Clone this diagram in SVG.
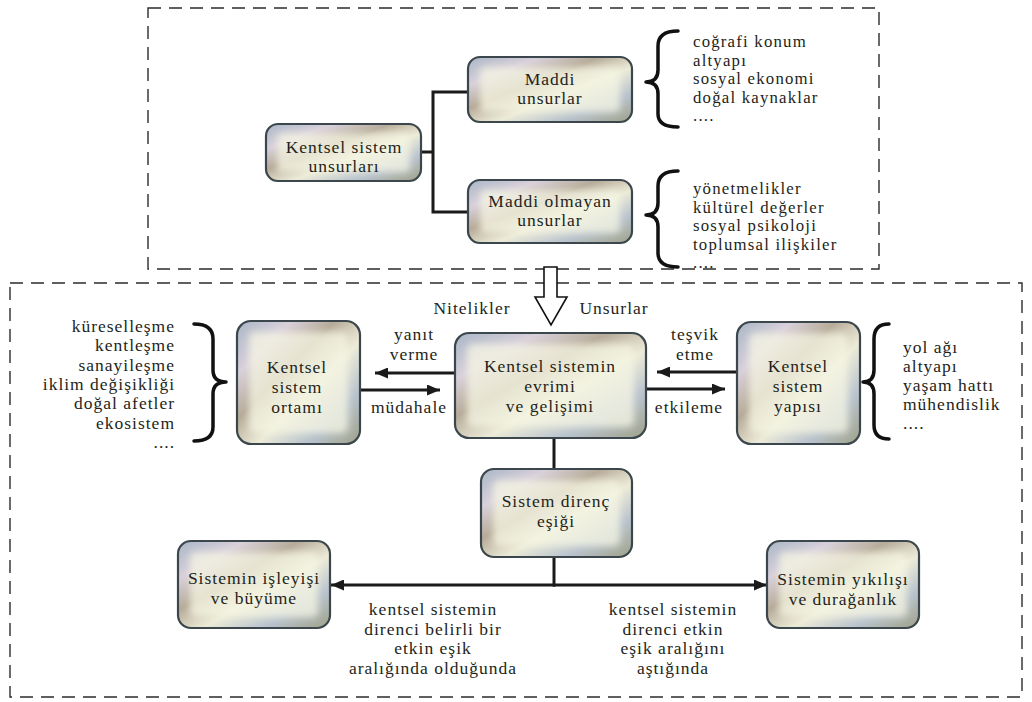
<svg xmlns="http://www.w3.org/2000/svg" width="1032" height="702" viewBox="0 0 1032 702">
<style>
text{font-family:"Liberation Serif","DejaVu Serif",serif;font-size:17.5px;letter-spacing:1px;fill:#231f20}
.s{font-size:16.8px;letter-spacing:1.2px}
.c{text-anchor:middle}
.r{text-anchor:end}
.frame{fill:none;stroke:#2b2b2b;stroke-width:1.4;stroke-dasharray:13 8}
.nb{fill:url(#metal);stroke:#3b474c;stroke-width:2.2}
.ni{fill:#f6f6e4;opacity:0.75;filter:url(#soft)}
.ln{fill:none;stroke:#1a1a1a;stroke-width:3}
.ar{fill:none;stroke:#1a1a1a;stroke-width:3;marker-end:url(#ah)}
.br{fill:none;stroke:#111;stroke-width:3.5;stroke-linecap:round;stroke-linejoin:round}
</style>
<defs>
<linearGradient id="metal" x1="0" y1="0" x2="1" y2="1">
<stop offset="0" stop-color="#a9b6c6"/>
<stop offset="0.22" stop-color="#d8d0da"/>
<stop offset="0.4" stop-color="#b6ab98"/>
<stop offset="0.58" stop-color="#ecebd8"/>
<stop offset="0.78" stop-color="#b9c3cd"/>
<stop offset="1" stop-color="#9fa188"/>
</linearGradient>
<filter id="soft" x="-20%" y="-20%" width="140%" height="140%">
<feGaussianBlur stdDeviation="3.5"/>
</filter>
<marker id="ah" markerUnits="userSpaceOnUse" markerWidth="13" markerHeight="11" refX="13" refY="5.5" orient="auto">
<path d="M0,0 L13,5.5 L0,11 z" fill="#1a1a1a"/>
</marker>
</defs>
<rect width="1032" height="702" fill="#fff"/>
<rect class="frame" x="148" y="8" width="731" height="261"/>
<rect class="frame" x="10" y="283" width="1012" height="414"/>

<g id="connectors">
<path class="ln" d="M421,152 H433 M433,92 V212 M431.5,92 H468 M431.5,212 H468"/>
<polygon points="544,267 557,267 557,297 567,297 551,325 535,297 544,297" fill="#fff" stroke="#111" stroke-width="1.6" stroke-linejoin="miter"/>
<line class="ar" x1="455" y1="373" x2="375" y2="373"/>
<line class="ar" x1="360" y1="390" x2="440" y2="390"/>
<line class="ar" x1="737" y1="372" x2="657" y2="372"/>
<line class="ar" x1="646" y1="389" x2="725" y2="389"/>
<line class="ln" x1="554" y1="438" x2="554" y2="469"/>
<line class="ln" x1="554" y1="557" x2="554" y2="586.5"/>
<line class="ar" x1="555" y1="585" x2="331" y2="585"/>
<line class="ar" x1="553" y1="585" x2="767" y2="585"/>
</g>

<g id="braces">
<path class="br" d="M678,31 Q658,31 658,46 L658,70 Q658,82 646,82 Q658,82 658,94 L658,114 Q658,127 678,127"/>
<path class="br" d="M678,171 Q658,171 658,186 L658,203 Q658,215 646,215 Q658,215 658,227 L658,253 Q658,267 678,267"/>
<path class="br" d="M194,324 Q213,324 213,339 L213,370 Q213,382 226,382 Q213,382 213,394 L213,427 Q213,441 194,441"/>
<path class="br" d="M889,324 Q874,324 874,339 L874,370 Q874,382 863,382 Q874,382 874,394 L874,425 Q874,439 889,439"/>
</g>

<g id="n1">
<rect class="nb" x="266" y="124" width="155" height="57" rx="12"/>
<rect class="ni" x="277" y="133" width="133" height="39" rx="5"/>
<text class="c" x="344" y="153">Kentsel sistem</text>
<text class="c" x="344" y="172">unsurları</text>
</g>
<g id="n2">
<rect class="nb" x="468" y="57" width="164" height="65" rx="12"/>
<rect class="ni" x="480" y="67" width="140" height="45" rx="5"/>
<text class="c" x="550" y="85">Maddi</text>
<text class="c" x="550" y="104">unsurlar</text>
</g>
<g id="n3">
<rect class="nb" x="468" y="180" width="164" height="63" rx="12"/>
<rect class="ni" x="480" y="190" width="140" height="43" rx="5"/>
<text class="c" x="550" y="207">Maddi olmayan</text>
<text class="c" x="550" y="226">unsurlar</text>
</g>

<g id="list1">
<text class="s" x="693" y="47">coğrafi konum</text>
<text class="s" x="693" y="65.5">altyapı</text>
<text class="s" x="693" y="84">sosyal ekonomi</text>
<text class="s" x="693" y="102.5">doğal kaynaklar</text>
<text class="s" x="693" y="121">....</text>
</g>
<g id="list2">
<text class="s" x="693" y="194">yönetmelikler</text>
<text class="s" x="693" y="212.5">kültürel değerler</text>
<text class="s" x="693" y="231">sosyal psikoloji</text>
<text class="s" x="693" y="249.5">toplumsal ilişkiler</text>
<text class="s" x="693" y="268">....</text>
</g>

<text class="c" x="472" y="314">Nitelikler</text>
<text class="c" x="614" y="314">Unsurlar</text>

<g id="list3">
<text class="r" x="175" y="332">küreselleşme</text>
<text class="r" x="175" y="351.3">kentleşme</text>
<text class="r" x="175" y="370.6">sanayileşme</text>
<text class="r" x="175" y="389.9">iklim değişikliği</text>
<text class="r" x="175" y="409.2">doğal afetler</text>
<text class="r" x="175" y="428.5">ekosistem</text>
<text class="r" x="175" y="447.8">....</text>
</g>

<g id="n4">
<rect class="nb" x="237" y="321" width="123" height="123" rx="14"/>
<rect class="ni" x="249" y="332" width="99" height="101" rx="6"/>
<text class="c" x="297" y="373">Kentsel</text>
<text class="c" x="297" y="393">sistem</text>
<text class="c" x="297" y="413">ortamı</text>
</g>

<g id="lbl-left">
<text class="c" x="414" y="340">yanıt</text>
<text class="c" x="414" y="360">verme</text>
<text class="c" x="409" y="413">müdahale</text>
</g>

<g id="n5">
<rect class="nb" x="455" y="333" width="191" height="105" rx="14"/>
<rect class="ni" x="467" y="344" width="167" height="83" rx="6"/>
<text class="c" x="550" y="372">Kentsel sistemin</text>
<text class="c" x="550" y="392">evrimi</text>
<text class="c" x="550" y="412">ve gelişimi</text>
</g>

<g id="lbl-right">
<text class="c" x="695" y="340">teşvik</text>
<text class="c" x="695" y="360">etme</text>
<text class="c" x="689" y="413">etkileme</text>
</g>

<g id="n6">
<rect class="nb" x="737" y="322" width="123" height="122" rx="14"/>
<rect class="ni" x="749" y="333" width="99" height="100" rx="6"/>
<text class="c" x="798" y="372">Kentsel</text>
<text class="c" x="798" y="392">sistem</text>
<text class="c" x="798" y="412">yapısı</text>
</g>

<g id="list4">
<text x="903" y="353">yol ağı</text>
<text x="903" y="372">altyapı</text>
<text x="903" y="391">yaşam hattı</text>
<text x="903" y="410">mühendislik</text>
<text x="903" y="429">....</text>
</g>

<g id="n7">
<rect class="nb" x="481" y="469" width="151" height="88" rx="13"/>
<rect class="ni" x="493" y="480" width="127" height="66" rx="6"/>
<text class="c" x="556" y="507">Sistem direnç</text>
<text class="c" x="556" y="527">eşiği</text>
</g>

<g id="n8">
<rect class="nb" x="178" y="541" width="152" height="87" rx="13"/>
<rect class="ni" x="190" y="552" width="128" height="65" rx="6"/>
<text class="c" x="254" y="584">Sistemin işleyişi</text>
<text class="c" x="254" y="604">ve büyüme</text>
</g>

<g id="n9">
<rect class="nb" x="767" y="541" width="152" height="87" rx="13"/>
<rect class="ni" x="779" y="552" width="128" height="65" rx="6"/>
<text class="c" x="843" y="585">Sistemin yıkılışı</text>
<text class="c" x="843" y="605">ve durağanlık</text>
</g>

<g id="lbl-bottom">
<text class="c" x="433" y="615">kentsel sistemin</text>
<text class="c" x="433" y="634.5">direnci belirli bir</text>
<text class="c" x="433" y="654">etkin eşik</text>
<text class="c" x="433" y="673.5">aralığında olduğunda</text>
<text class="c" x="673" y="615">kentsel sistemin</text>
<text class="c" x="673" y="634.5">direnci etkin</text>
<text class="c" x="673" y="654">eşik aralığını</text>
<text class="c" x="673" y="673.5">aştığında</text>
</g>
</svg>
